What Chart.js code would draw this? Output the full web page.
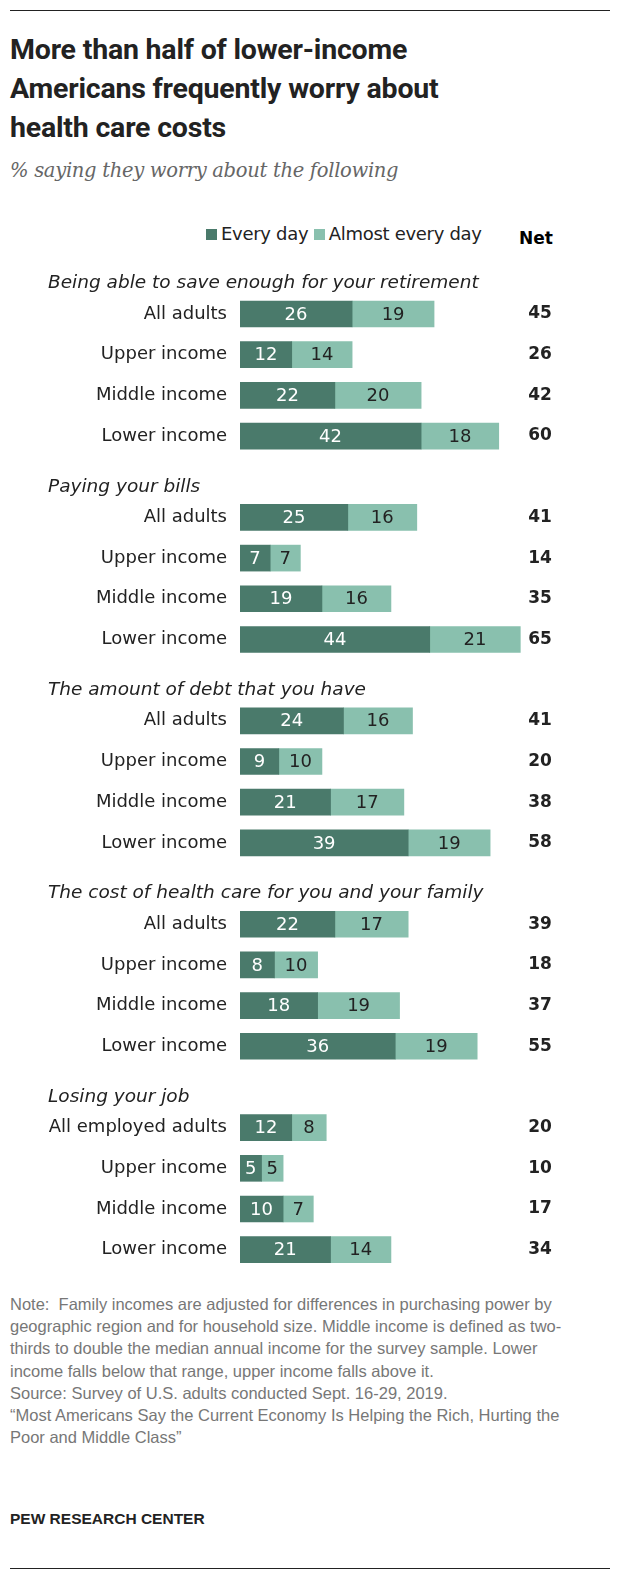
<!DOCTYPE html>
<html>
<head>
<meta charset="utf-8">
<script src="https://cdn.jsdelivr.net/npm/chart.js@4/dist/chart.umd.min.js"></script>
<style>
  body { margin: 0; width: 622px; height: 1580px; background: #fff; font-family: "Liberation Sans", Arial, sans-serif; position: relative; overflow: hidden; }
  .rule { position: absolute; left: 10px; width: 600px; border-top: 1px solid #222; }
  h1 { position: absolute; left: 10px; top: 30px; margin: 0; font: bold 28.5px/39px "Roboto", "Liberation Sans", sans-serif; color: #222; letter-spacing: -0.2px; }
  .sub { position: absolute; left: 10px; top: 159px; font: italic 19.5px "DejaVu Serif", Georgia, serif; color: #666; letter-spacing: -0.3px; }
  .legend { position: absolute; top: 223px; left: 206px; font: 18px "DejaVu Sans", sans-serif; color: #222; letter-spacing: -0.3px; }
  .legend span.sw { display: inline-block; width: 11px; height: 11px; margin-right: 4px; }
  .net { position: absolute; top: 228px; left: 519px; font: bold 17px "DejaVu Sans", sans-serif; }
  #wrap { position: absolute; left: 0; top: 243px; }
  .foot { position: absolute; left: 10px; top: 1293px; font-size: 16.5px; line-height: 22.2px; color: #777; width: 580px; }
  .pew { position: absolute; left: 10px; top: 1510px; font: bold 15.5px "Liberation Sans", sans-serif; color: #222; }
</style>
</head>
<body>
<div class="rule" style="top:10px"></div>
<h1>More than half of lower-income<br>Americans frequently worry about<br>health care costs</h1>
<div class="sub">% saying they worry about the following</div>
<div class="legend"><span class="sw" style="background:#4a7a6b"></span>Every day&nbsp;<span class="sw" style="background:#89c0ae"></span>Almost every day</div>
<div class="net">Net</div>
<div id="wrap"><canvas id="c" width="622" height="1030"></canvas></div>
<div class="foot">Note:&nbsp; Family incomes are adjusted for differences in purchasing power by geographic region and for household size. Middle income is defined as two-thirds to double the median annual income for the survey sample. Lower income falls below that range, upper income falls above it.<br>Source: Survey of U.S. adults conducted Sept. 16-29, 2019.<br>“Most Americans Say the Current Economy Is Helping the Rich, Hurting the Poor and Middle Class”</div>
<div class="pew">PEW RESEARCH CENTER</div>
<div class="rule" style="top:1568px"></div>
<script>
// header rows have null values; each group = header + 4 rows
const headers = ['Being able to save enough for your retirement', 'Paying your bills', 'The amount of debt that you have', 'The cost of health care for you and your family', 'Losing your job'];
const rowLabels = [
  '', 'All adults', 'Upper income', 'Middle income', 'Lower income',
  '', 'All adults', 'Upper income', 'Middle income', 'Lower income',
  '', 'All adults', 'Upper income', 'Middle income', 'Lower income',
  '', 'All adults', 'Upper income', 'Middle income', 'Lower income',
  '', 'All employed adults', 'Upper income', 'Middle income', 'Lower income'
];
const everyDay = [null, 26, 12, 22, 42, null, 25, 7, 19, 44, null, 24, 9, 21, 39, null, 22, 8, 18, 36, null, 12, 5, 10, 21];
const almostEveryDay = [null, 19, 14, 20, 18, null, 16, 7, 16, 21, null, 16, 10, 17, 19, null, 17, 10, 19, 19, null, 8, 5, 7, 14];
const net = [null, 45, 26, 42, 60, null, 41, 14, 35, 65, null, 41, 20, 38, 58, null, 39, 18, 37, 55, null, 20, 10, 17, 34];

const dark = '#4a7a6b', light = '#89c0ae';

const textPlugin = {
  id: 'texts',
  afterDatasetsDraw(chart) {
    const ctx = chart.ctx;
    const y = chart.scales.y;
    ctx.save();
    ctx.textBaseline = 'middle';
    rowLabels.forEach((lab, i) => {
      const yc = y.getPixelForValue(i);
      if (i % 5 === 0) {
        // headers sit closer to their first row than the row spacing
        ctx.font = 'italic 18.5px "DejaVu Sans", sans-serif';
        ctx.fillStyle = '#222';
        ctx.textAlign = 'left';
        ctx.fillText(headers[i / 5], 48, yc + 10);
        return;
      }
      ctx.font = '18px "DejaVu Sans", sans-serif';
      ctx.fillStyle = '#222';
      ctx.textAlign = 'right';
      ctx.fillText(lab, 227, yc);
      ctx.font = 'bold 17px "DejaVu Sans", sans-serif';
      ctx.textAlign = 'center';
      ctx.fillText(net[i], 540, yc);
    });
    ctx.font = '18px "DejaVu Sans", sans-serif';
    ctx.textAlign = 'center';
    chart.data.datasets.forEach((ds, di) => {
      chart.getDatasetMeta(di).data.forEach((bar, i) => {
        if (ds.data[i] == null) return;
        ctx.fillStyle = di === 0 ? '#fff' : '#222';
        ctx.fillText(ds.data[i], (bar.x + bar.base) / 2, bar.y + 1);
      });
    });
    ctx.restore();
  }
};

new Chart(document.getElementById('c'), {
  type: 'bar',
  data: {
    labels: rowLabels.map((l, i) => l || ('h' + i)),
    datasets: [
      { label: 'Every day', data: everyDay, backgroundColor: dark, barThickness: 26 },
      { label: 'Almost every day', data: almostEveryDay, backgroundColor: light, barThickness: 26 }
    ]
  },
  options: {
    indexAxis: 'y',
    responsive: false,
    animation: false,
    layout: { padding: { left: 240, right: 37, top: 10, bottom: 3 } },
    plugins: { legend: { display: false }, tooltip: { enabled: false } },
    scales: {
      x: { stacked: true, min: 0, max: 80, display: false },
      y: { stacked: true, display: false }
    }
  },
  plugins: [textPlugin]
});
</script>
</body>
</html>
